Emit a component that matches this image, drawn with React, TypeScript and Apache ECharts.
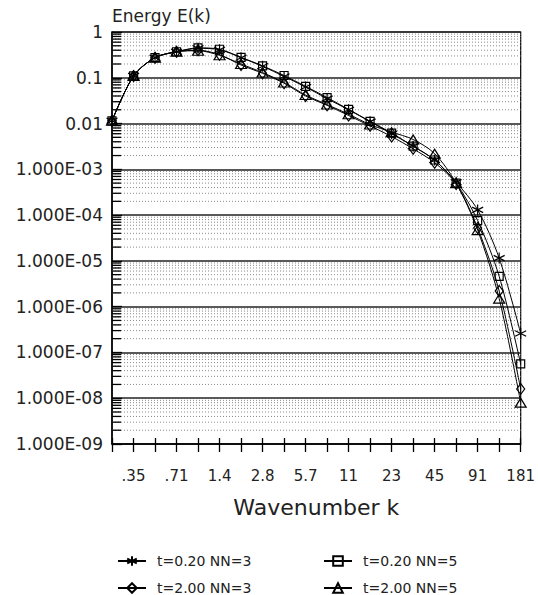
import React, { useEffect, useRef } from 'react';
import * as echarts from 'echarts';

const FONT = "'DejaVu Sans', sans-serif";

// wavenumbers k (half-octave steps)
const kValues = [0.25, 0.354, 0.5, 0.707, 1, 1.414, 2, 2.828, 4, 5.657, 8, 11.31, 16, 22.63, 32, 45.25, 64, 90.51, 128, 181.0];

// Energy spectra E(k)
const eT020NN3 = [0.0115, 0.11, 0.275, 0.37, 0.44, 0.41, 0.275, 0.178, 0.107, 0.063, 0.035, 0.02, 0.011, 0.006, 0.0032, 0.0016, 5.2e-4, 1.3e-4, 1.15e-5, 2.6e-7];
const eT020NN5 = [0.0115, 0.11, 0.275, 0.37, 0.45, 0.42, 0.28, 0.182, 0.112, 0.065, 0.037, 0.0204, 0.0112, 0.0062, 0.0032, 0.0016, 5.0e-4, 7.6e-5, 4.6e-6, 5.6e-8];
const eT200NN3 = [0.0115, 0.11, 0.275, 0.37, 0.4, 0.32, 0.19, 0.125, 0.076, 0.04, 0.025, 0.015, 0.0089, 0.0052, 0.0028, 0.0014, 4.8e-4, 5.2e-5, 2.2e-6, 1.6e-8];
const eT200NN5 = [0.0115, 0.11, 0.275, 0.37, 0.39, 0.31, 0.2, 0.13, 0.079, 0.042, 0.026, 0.016, 0.0095, 0.0065, 0.0045, 0.0022, 5.0e-4, 4.7e-5, 1.5e-6, 8e-9];

const seriesNames = ['t=0.20 NN=3', 't=0.20 NN=5', 't=2.00 NN=3', 't=2.00 NN=5'];

// tick labels
const xTickLabels = ['.35', '.71', '1.4', '2.8', '5.7', '11', '23', '45', '91', '181'];
const yTickLabels = ['1', '0.1', '0.01', '1.000E-03', '1.000E-04', '1.000E-05', '1.000E-06', '1.000E-07', '1.000E-08', '1.000E-09'];
const decades = [1e-9, 1e-8, 1e-7, 1e-6, 1e-5, 1e-4, 1e-3, 1e-2, 1e-1];
const minorMultipliers = [2, 3, 4, 5, 6, 7, 8, 9];

const ASTERISK = 'path://M0,-6L0,6M-5.2,-3L5.2,3M-5.2,3L5.2,-3';

const X_MIN = -2;
const X_MAX = 7.5;

export default function App() {
  const ref = useRef<HTMLDivElement>(null);
  useEffect(() => {
    document.body.style.margin = '0';
    if (!ref.current) return;
    const chart = echarts.init(ref.current, undefined, { renderer: 'svg' });

    const toPts = (arr: number[]) => kValues.map((k, i) => [Math.log2(k), arr[i]]);

    const minorVals: number[] = [];
    decades.forEach((d) => minorMultipliers.forEach((m) => minorVals.push(m * d)));

    const lineCommon = {
      type: 'line' as const,
      smooth: 0.3,
      lineStyle: { color: '#000', width: 1 },
      z: 5,
    };

    const legendCommon = {
      itemWidth: 28,
      itemHeight: 12,
      textStyle: { fontFamily: FONT, fontSize: 14, color: '#222', padding: [0, 0, 0, 6] },
    };

    const option: any = {
      animation: false,
      backgroundColor: '#fff',
      title: {
        text: 'Energy E(k)',
        left: 107,
        top: 2,
        textStyle: { fontFamily: FONT, fontSize: 17, fontWeight: 'normal', color: '#222' },
      },
      grid: {
        left: 112,
        right: 11,
        top: 32,
        bottom: 151,
        show: true,
        borderColor: '#000',
        borderWidth: 1.2,
        backgroundColor: 'transparent',
      },
      legend: [
        { ...legendCommon, data: [seriesNames[0]], left: 112, top: 549 },
        { ...legendCommon, data: [seriesNames[1]], left: 318, top: 549 },
        { ...legendCommon, data: [seriesNames[2]], left: 112, top: 576 },
        { ...legendCommon, data: [seriesNames[3]], left: 318, top: 576 },
      ],
      xAxis: [
        {
          type: 'value',
          min: X_MIN,
          max: X_MAX,
          interval: 0.5,
          name: 'Wavenumber k',
          nameLocation: 'middle',
          nameGap: 52,
          nameTextStyle: { fontFamily: FONT, fontSize: 22, color: '#222' },
          axisLine: { show: true, onZero: false, lineStyle: { color: '#000', width: 1.5 } },
          axisTick: { show: true, inside: false, length: 8, lineStyle: { color: '#000', width: 1.3 } },
          splitLine: { show: false },
          axisLabel: {
            show: true,
            margin: 24,
            showMinLabel: true,
            showMaxLabel: true,
            fontFamily: FONT,
            fontSize: 15,
            color: '#222',
            formatter: (v: number) => {
              const idx = v + 1.5;
              if (Math.abs(idx - Math.round(idx)) < 1e-6 && idx >= 0) {
                return xTickLabels[Math.round(idx)] ?? '';
              }
              return '';
            },
          },
        },
        {
          type: 'value',
          position: 'bottom',
          min: X_MIN,
          max: X_MAX,
          interval: 0.5,
          axisLine: { show: false, onZero: false },
          axisTick: { show: true, inside: true, length: 6, lineStyle: { color: '#000', width: 1.3 } },
          axisLabel: { show: false },
          splitLine: { show: false },
        },
      ],
      yAxis: {
        type: 'log',
        logBase: 10,
        min: 1e-9,
        max: 1,
        splitNumber: 9,
        axisLine: { show: true, onZero: false, lineStyle: { color: '#000', width: 1.5 } },
        axisTick: { show: true, inside: true, length: 10, lineStyle: { color: '#000', width: 1.3 } },
        splitLine: { show: true, lineStyle: { color: '#222', width: 1.6 } },
        axisLabel: {
          margin: 9,
          fontFamily: FONT,
          fontSize: 17,
          color: '#222',
          formatter: (v: number) => {
            const e = Math.round(-Math.log10(v));
            return yTickLabels[e] ?? '';
          },
        },
      },
      series: [
        {
          type: 'custom',
          name: 'minor',
          silent: true,
          z: 1,
          data: minorVals.map((v) => [X_MIN, v]),
          renderItem: (params: any, api: any) => {
            const v = api.value(1);
            const p0 = api.coord([X_MIN, v]);
            const p1 = api.coord([X_MAX, v]);
            return {
              type: 'group',
              children: [
                {
                  type: 'line',
                  shape: { x1: p0[0], y1: p0[1], x2: p1[0], y2: p1[1] },
                  style: { stroke: '#8a8a8a', lineWidth: 1, lineDash: [1, 2] },
                },
                {
                  type: 'line',
                  shape: { x1: p0[0], y1: p0[1], x2: p0[0] + 9, y2: p0[1] },
                  style: { stroke: '#000', lineWidth: 1.3 },
                },
              ],
            };
          },
        },
        {
          ...lineCommon,
          name: seriesNames[0],
          symbol: ASTERISK,
          symbolSize: 11,
          itemStyle: { color: '#000', borderColor: '#000', borderWidth: 1.2 },
          data: toPts(eT020NN3),
        },
        {
          ...lineCommon,
          name: seriesNames[1],
          symbol: 'rect',
          symbolSize: 8,
          itemStyle: { color: 'rgba(255,255,255,0)', borderColor: '#000', borderWidth: 1.2 },
          data: toPts(eT020NN5),
        },
        {
          ...lineCommon,
          name: seriesNames[2],
          symbol: 'diamond',
          symbolSize: [8, 11],
          itemStyle: { color: 'rgba(255,255,255,0)', borderColor: '#000', borderWidth: 1.2 },
          data: toPts(eT200NN3),
        },
        {
          ...lineCommon,
          name: seriesNames[3],
          symbol: 'triangle',
          symbolSize: [11, 9],
          itemStyle: { color: 'rgba(255,255,255,0)', borderColor: '#000', borderWidth: 1.2 },
          data: toPts(eT200NN5),
        },
      ],
    };

    chart.setOption(option);
    return () => chart.dispose();
  }, []);

  return <div ref={ref} style={{ width: 538, height: 595 }} />;
}
